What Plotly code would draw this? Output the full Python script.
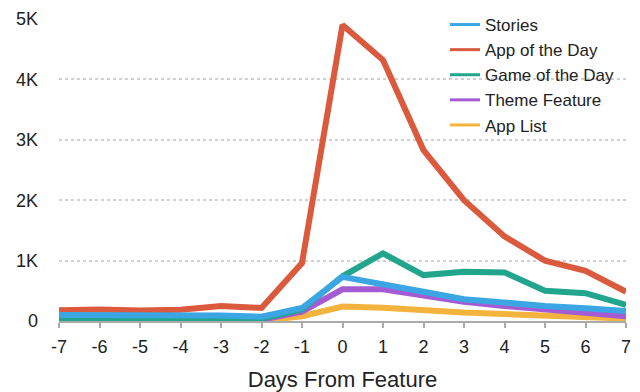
import plotly.graph_objects as go

days = [-7, -6, -5, -4, -3, -2, -1, 0, 1, 2, 3, 4, 5, 6, 7]

stories = [100, 100, 100, 100, 90, 70, 215, 730, 620, 485, 360, 300, 250, 210, 165]
app_of_day = [180, 190, 175, 185, 250, 215, 960, 4900, 4320, 2830, 2000, 1400, 1000, 830, 485]
game_of_day = [50, 50, 50, 50, 50, 40, 190, 740, 1120, 760, 815, 805, 500, 460, 265]
theme_feature = [20, 20, 20, 20, 20, 20, 155, 525, 525, 415, 320, 250, 200, 150, 80]
app_list = [0, 0, 0, 0, 0, 0, 80, 240, 220, 170, 140, 115, 85, 65, 40]

series_names = ["Stories", "App of the Day", "Game of the Day", "Theme Feature", "App List"]
series_values = [stories, app_of_day, game_of_day, theme_feature, app_list]
series_colors = ["#3BA6E3", "#DB5A3E", "#22A58D", "#A55BD3", "#F3B33D"]

y_tickvals = [0, 1000, 2000, 3000, 4000, 5000]
y_ticktext = ["0", "1K", "2K", "3K", "4K", "5K"]

fig = go.Figure()
# data lines: drawn in reverse so "Stories" sits on top
for name, vals, col in reversed(list(zip(series_names, series_values, series_colors))):
    fig.add_trace(go.Scatter(x=days, y=vals, name=name, mode="lines", showlegend=False,
                             line=dict(color=col, width=6)))
# legend entries with thinner swatches (no data drawn)
for name, col in zip(series_names, series_colors):
    fig.add_trace(go.Scatter(x=[None], y=[None], name=name, mode="lines",
                             line=dict(color=col, width=3), hoverinfo="skip"))

fig.update_layout(
    width=640, height=392,
    margin=dict(l=59, r=14, t=19, b=71, autoexpand=False),
    paper_bgcolor="white", plot_bgcolor="white",
    font=dict(family="Liberation Sans, Arial, sans-serif", size=18, color="#222"),
    showlegend=True,
    legend=dict(traceorder="normal", xref="container", yref="container",
                x=445 / 640, y=1 - 7 / 392, xanchor="left", yanchor="top",
                bgcolor="rgba(0,0,0,0)", font=dict(size=17), itemwidth=30,
                tracegroupgap=0),
)
fig.update_xaxes(range=[-7, 7], tickvals=days, ticktext=[str(d) for d in days],
                 automargin=False,
                 showgrid=False, zeroline=False, showline=True, linecolor="#aaa",
                 linewidth=2, ticks="outside", ticklen=5, tickcolor="#aaa", tickwidth=1.5,
                 ticklabelstandoff=3,
                 title=dict(text="Days From Feature", standoff=16), tickfont=dict(size=18))
fig.update_yaxes(range=[0, 5000], tickvals=y_tickvals, ticktext=y_ticktext,
                 automargin=False,
                 showgrid=True, gridcolor="#d0d0d0", griddash="dot", gridwidth=2,
                 zeroline=False, showline=False, ticks="", ticklabelstandoff=20,
                 tickfont=dict(size=18))

fig.write_html("out.html", config={"displayModeBar": False},
               post_script="document.body.style.margin='0px';document.body.style.overflow='hidden';")
